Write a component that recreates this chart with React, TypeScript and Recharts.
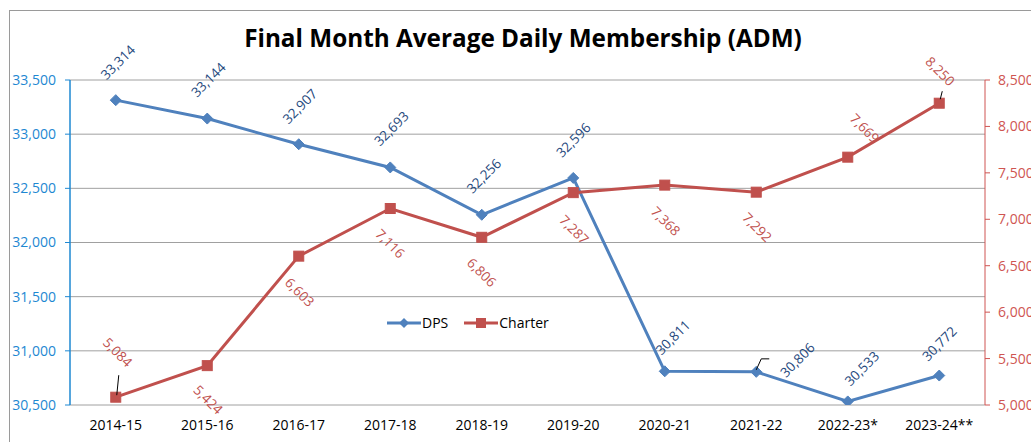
import React from 'react';
import { LineChart, Line, XAxis, YAxis, CartesianGrid } from 'recharts';

const categories = ['2014-15', '2015-16', '2016-17', '2017-18', '2018-19', '2019-20', '2020-21', '2021-22', '2022-23*', '2023-24**'];
const dpsValues = [33314, 33144, 32907, 32693, 32256, 32596, 30811, 30806, 30533, 30772];
const charterValues = [5084, 5424, 6603, 7116, 6806, 7287, 7368, 7292, 7669, 8250];
const leftTicks = [30500, 31000, 31500, 32000, 32500, 33000, 33500];
const rightTicks = [5000, 5500, 6000, 6500, 7000, 7500, 8000, 8500];
const boundaryTicks = [0, 1, 2, 3, 4, 5, 6, 7, 8, 9, 10];
const seriesNames = ['DPS', 'Charter'];

const data = categories.map((c, i) => ({ cat: c, idx: i + 0.5, dps: dpsValues[i], charter: charterValues[i] }));

const FONT = '"Open Sans", "Liberation Sans", sans-serif';
const DPS_COLOR = '#4F81BD';
const CH_COLOR = '#C0504D';
const DPS_LABEL = '#1F497D';
const LEFT_AXIS = '#1E88D2';
const RIGHT_AXIS = '#CF5552';

// label placement (styling): center offsets from point
const dpsLabelOffset: [number, number][] = [
  [2, -38], [1, -39], [1, -38], [1, -39], [2, -39], [0, -38], [8, -34], [41, -12], [14, -33], [0, -32],
];
const chLabelOffset: [number, number][] = [
  [2, -45], [1, 34], [1, 36], [0, 35], [0, 35], [1, 37], [1, 36], [1, 35], [17, -29], [1, -32],
];

const fmt = (v: number) => v.toLocaleString('en-US');

const DpsLabel = (props: any) => {
  const { x, y, value, index } = props;
  const [dx, dy] = dpsLabelOffset[index];
  const cx = x + dx;
  const cy = y + dy;
  return (
    <g>
      {index === 7 && (
        <polyline points={`${x},${y - 2} ${x + 5},${y - 13} ${x + 13},${y - 13}`} fill="none" stroke="#000" strokeWidth={1} />
      )}
      <text x={cx} y={cy} transform={`rotate(-45 ${cx} ${cy})`} textAnchor="middle" dominantBaseline="central"
        fill={DPS_LABEL} fontSize={13.5} fontFamily={FONT}>{fmt(value)}</text>
    </g>
  );
};

const ChLabel = (props: any) => {
  const { x, y, value, index } = props;
  const [dx, dy] = chLabelOffset[index];
  const cx = x + dx;
  const cy = y + dy;
  return (
    <g>
      {index === 0 && <line x1={x + 1} y1={y - 2} x2={x + 3} y2={y - 22} stroke="#000" strokeWidth={1} />}
      {index === 9 && <line x1={x + 1} y1={y - 4} x2={x + 3} y2={y - 12} stroke="#000" strokeWidth={1} />}
      <text x={cx} y={cy} transform={`rotate(45 ${cx} ${cy})`} textAnchor="middle" dominantBaseline="central"
        fill={CH_COLOR} fontSize={13.5} fontFamily={FONT}>{fmt(value)}</text>
    </g>
  );
};

const Diamond = (props: any) => {
  const { cx, cy } = props;
  if (cx == null || cy == null) return null;
  const r = 5.5;
  return <path d={`M${cx},${cy - r} L${cx + r},${cy} L${cx},${cy + r} L${cx - r},${cy} Z`} fill={DPS_COLOR} stroke={DPS_COLOR} />;
};

const Square = (props: any) => {
  const { cx, cy } = props;
  if (cx == null || cy == null) return null;
  const r = 5;
  return <rect x={cx - r} y={cy - r} width={2 * r} height={2 * r} fill={CH_COLOR} stroke={CH_COLOR} />;
};

const LegendBox = () => (
  <div style={{ position: 'absolute', left: 387, top: 313, display: 'flex', alignItems: 'center', fontFamily: FONT, fontSize: 14, color: '#000', lineHeight: '20px' }}>
    <svg width={34} height={12}>
      <line x1={0} y1={6} x2={34} y2={6} stroke={DPS_COLOR} strokeWidth={3} />
      <path d="M17,1 L22,6 L17,11 L12,6 Z" fill={DPS_COLOR} />
    </svg>
    <span style={{ marginLeft: 1, marginRight: 16 }}>{seriesNames[0]}</span>
    <svg width={34} height={12}>
      <line x1={0} y1={6} x2={34} y2={6} stroke={CH_COLOR} strokeWidth={3} />
      <rect x={12} y={1} width={10} height={10} fill={CH_COLOR} />
    </svg>
    <span style={{ marginLeft: 1 }}>{seriesNames[1]}</span>
  </div>
);

export default function App() {
  return (
    <div style={{ position: 'fixed', left: 0, top: 0, width: 1031, height: 442, overflow: 'hidden', background: '#fff' }}>
      <div style={{ position: 'absolute', left: 9, top: 10, width: 1100, height: 500, border: '1px solid #9a9a9a' }} />
      <div style={{ position: 'absolute', left: 0, top: 21, width: 1046, textAlign: 'center', fontFamily: FONT, fontWeight: 700, fontSize: 24.3, color: '#000' }}>
        Final Month Average Daily Membership (ADM)
      </div>
      <div style={{ position: 'absolute', left: 0, top: 0 }}>
        <LineChart width={1031} height={442} data={data} margin={{ top: 80, right: 0, bottom: 0, left: 0 }}>
          <CartesianGrid yAxisId="left" xAxisId="cat" vertical={false} stroke="#a0a0a0" strokeWidth={1} />
          <XAxis xAxisId="bound" type="number" dataKey="idx" domain={[0, 10]} ticks={boundaryTicks} height={0}
            tickSize={6} tickFormatter={() => ''} axisLine={{ stroke: '#8c8c8c' }} tickLine={{ stroke: '#8c8c8c' }} />
          <XAxis xAxisId="cat" dataKey="cat" scale="band" height={37} axisLine={false} tickLine={false}
            tick={{ fill: '#000', fontSize: 14, fontFamily: FONT }} tickMargin={9} interval={0} />
          <YAxis yAxisId="left" orientation="left" width={70} domain={[30500, 33500]} ticks={leftTicks}
            tickFormatter={fmt} axisLine={{ stroke: LEFT_AXIS, strokeWidth: 1.5 }} tickLine={{ stroke: LEFT_AXIS }} tickSize={5}
            tickMargin={9} tick={{ fill: LEFT_AXIS, fontSize: 14, fontFamily: FONT }} allowDataOverflow />
          <YAxis yAxisId="right" orientation="right" width={46} domain={[5000, 8500]} ticks={rightTicks}
            tickFormatter={fmt} axisLine={{ stroke: RIGHT_AXIS, strokeWidth: 1 }} tickLine={{ stroke: RIGHT_AXIS }} tickSize={5}
            tickMargin={8} tick={{ fill: RIGHT_AXIS, fontSize: 14, fontFamily: FONT, textAnchor: 'start' }} allowDataOverflow />
          <Line xAxisId="cat" yAxisId="left" type="linear" dataKey="dps" name="DPS" stroke={DPS_COLOR} strokeWidth={3}
            dot={<Diamond />} activeDot={false} isAnimationActive={false} label={<DpsLabel />} />
          <Line xAxisId="cat" yAxisId="right" type="linear" dataKey="charter" name="Charter" stroke={CH_COLOR} strokeWidth={3}
            dot={<Square />} activeDot={false} isAnimationActive={false} label={<ChLabel />} />
        </LineChart>
      </div>
      <LegendBox />
    </div>
  );
}
